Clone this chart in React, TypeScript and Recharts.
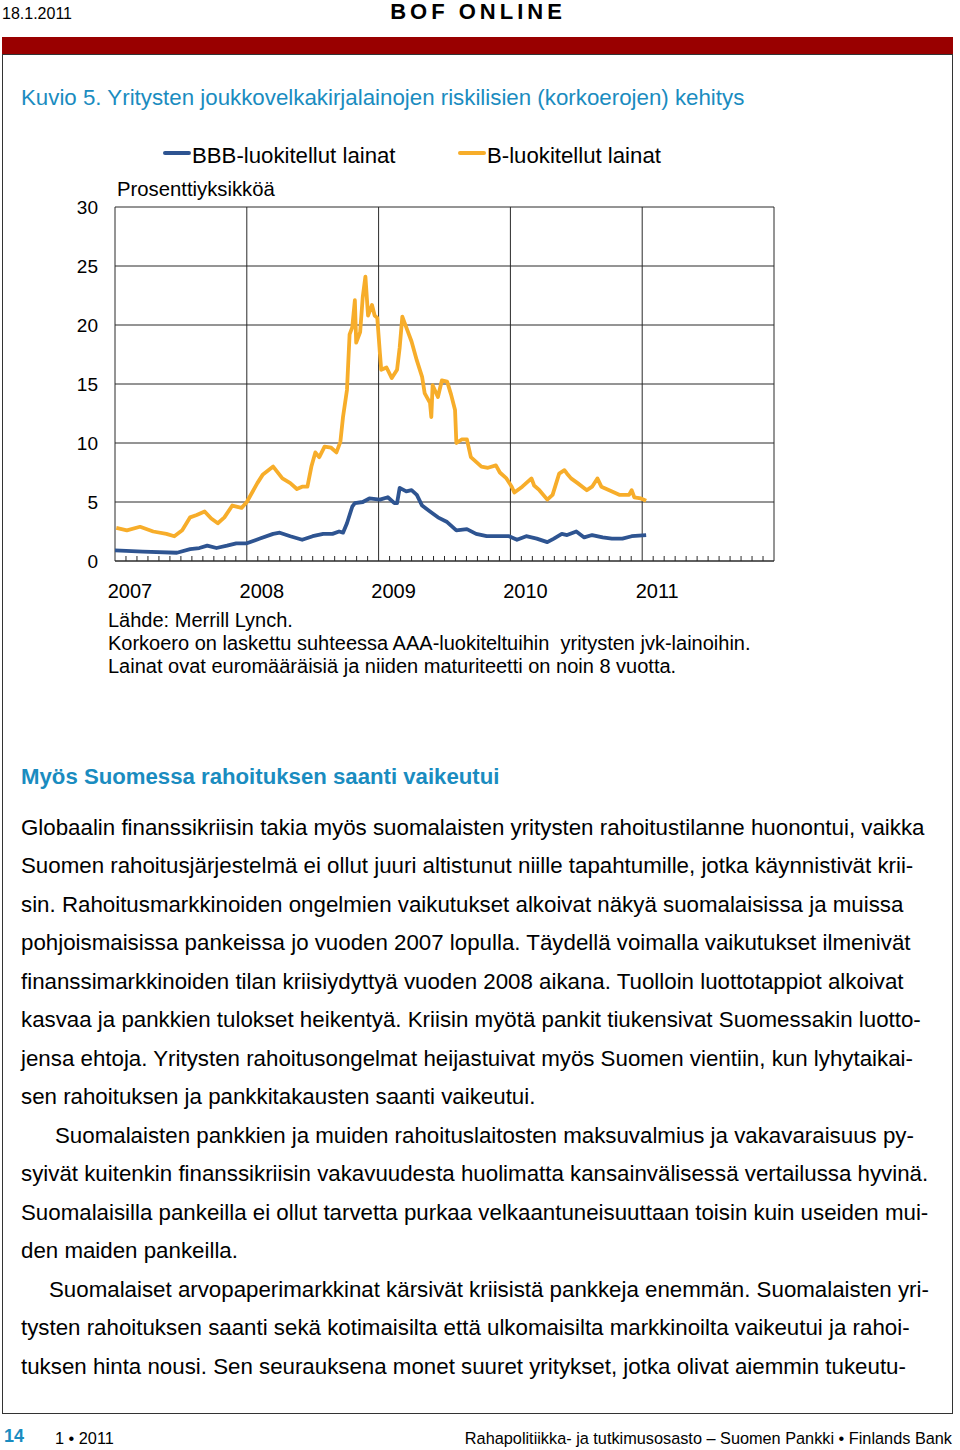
import React from 'react';
import { LineChart, Line, XAxis, YAxis, CartesianGrid, ReferenceLine } from 'recharts';

// BBB-rated spread, fractional year -> percentage points
const bbbTimes = [
  2007.0, 2007.21, 2007.47, 2007.57, 2007.64, 2007.7, 2007.77, 2007.85, 2007.92, 2008.0,
  2008.1, 2008.2, 2008.25, 2008.33, 2008.42, 2008.5, 2008.58, 2008.65, 2008.7, 2008.73,
  2008.76, 2008.8, 2008.82, 2008.88, 2008.93, 2009.01, 2009.07, 2009.12, 2009.14, 2009.16,
  2009.21, 2009.25, 2009.29, 2009.33, 2009.39, 2009.45, 2009.52, 2009.59, 2009.67, 2009.74,
  2009.82, 2009.92, 2009.99, 2010.05, 2010.12, 2010.2, 2010.28, 2010.33, 2010.39, 2010.43,
  2010.5, 2010.56, 2010.62, 2010.7, 2010.77, 2010.85, 2010.92, 2011.03,
];
const bbbValues = [
  0.9, 0.8, 0.7, 1.0, 1.1, 1.3, 1.1, 1.3, 1.5, 1.5,
  1.9, 2.3, 2.4, 2.1, 1.8, 2.1, 2.3, 2.3, 2.5, 2.4,
  3.2, 4.6, 4.9, 5.0, 5.3, 5.2, 5.4, 4.9, 4.9, 6.2,
  5.9, 6.0, 5.6, 4.7, 4.2, 3.7, 3.3, 2.6, 2.7, 2.3,
  2.1, 2.1, 2.1, 1.8, 2.1, 1.9, 1.6, 1.9, 2.3, 2.2,
  2.5, 2.0, 2.2, 2.0, 1.9, 1.9, 2.1, 2.2,
];

// B-rated spread
const bTimes = [
  2007.01, 2007.09, 2007.19, 2007.29, 2007.39, 2007.45, 2007.51, 2007.57, 2007.62, 2007.68,
  2007.73, 2007.78, 2007.83, 2007.89, 2007.96, 2008.0, 2008.08, 2008.12, 2008.2, 2008.27,
  2008.33, 2008.38, 2008.42, 2008.46, 2008.49, 2008.52, 2008.55, 2008.59, 2008.64, 2008.68,
  2008.71, 2008.73, 2008.76, 2008.78, 2008.8, 2008.82, 2008.83, 2008.86, 2008.88, 2008.9,
  2008.92, 2008.95, 2008.97, 2008.99, 2009.01, 2009.02, 2009.06, 2009.1, 2009.14, 2009.16,
  2009.18, 2009.21, 2009.25, 2009.29, 2009.33, 2009.35, 2009.39, 2009.4, 2009.41, 2009.45,
  2009.48, 2009.52, 2009.55, 2009.58, 2009.59, 2009.63, 2009.67, 2009.7, 2009.74, 2009.78,
  2009.83, 2009.89, 2009.92, 2009.97, 2010.01, 2010.03, 2010.09, 2010.16, 2010.18, 2010.22,
  2010.28, 2010.32, 2010.37, 2010.41, 2010.43, 2010.46, 2010.51, 2010.58, 2010.62, 2010.66,
  2010.69, 2010.75, 2010.83, 2010.9, 2010.92, 2010.94, 2010.99, 2011.03,
];
const bValues = [
  2.8, 2.6, 2.9, 2.5, 2.3, 2.1, 2.6, 3.7, 3.9, 4.2,
  3.6, 3.2, 3.7, 4.7, 4.5, 5.0, 6.6, 7.3, 8.0, 7.0,
  6.6, 6.1, 6.3, 6.3, 8.0, 9.2, 8.8, 9.7, 9.6, 9.2,
  10.1, 12.2, 14.5, 19.2, 19.8, 22.1, 18.5, 19.4, 22.4, 24.1,
  20.8, 21.7, 20.8, 20.6, 17.6, 16.2, 16.4, 15.5, 16.2, 18.1,
  20.7, 19.8, 18.6, 17.0, 15.6, 14.2, 13.4, 12.2, 14.9, 13.9,
  15.3, 15.2, 14.1, 12.8, 10.0, 10.3, 10.3, 8.8, 8.4, 8.0,
  7.9, 8.1, 7.5, 7.0, 6.3, 5.8, 6.3, 7.0, 6.4, 6.0,
  5.2, 5.6, 7.4, 7.7, 7.4, 7.0, 6.6, 6.0, 6.3, 7.0,
  6.3, 6.0, 5.6, 5.6, 6.0, 5.4, 5.3, 5.1,
];

const gridYears = [2007, 2008, 2009, 2010, 2011, 2012];
const labelYears = [2007, 2008, 2009, 2010, 2011];
const yTicks = [0, 5, 10, 15, 20, 25, 30];
const monthTicks = Array.from({ length: 61 }, (_, i) => 2007 + i / 12);

const seriesNames = ['BBB-luokitellut lainat', 'B-luokitellut lainat'];
const seriesColors = ['#2E5491', '#F7AD2A'];

const sourceNotes = [
  'Lähde: Merrill Lynch.',
  'Korkoero on laskettu suhteessa AAA-luokiteltuihin  yritysten jvk-lainoihin.',
  'Lainat ovat euromääräisiä ja niiden maturiteetti on noin 8 vuotta.',
];

const bodyLines = [
  { text: 'Globaalin finanssikriisin takia myös suomalaisten yritysten rahoitustilanne huonontui, vaikka', indent: 0 },
  { text: 'Suomen rahoitusjärjestelmä ei ollut juuri altistunut niille tapahtumille, jotka käynnistivät krii-', indent: 0 },
  { text: 'sin. Rahoitusmarkkinoiden ongelmien vaikutukset alkoivat näkyä suomalaisissa ja muissa', indent: 0 },
  { text: 'pohjoismaisissa pankeissa jo vuoden 2007 lopulla. Täydellä voimalla vaikutukset ilmenivät', indent: 0 },
  { text: 'finanssimarkkinoiden tilan kriisiydyttyä vuoden 2008 aikana. Tuolloin luottotappiot alkoivat', indent: 0 },
  { text: 'kasvaa ja pankkien tulokset heikentyä. Kriisin myötä pankit tiukensivat Suomessakin luotto-', indent: 0 },
  { text: 'jensa ehtoja. Yritysten rahoitusongelmat heijastuivat myös Suomen vientiin, kun lyhytaikai-', indent: 0 },
  { text: 'sen rahoituksen ja pankkitakausten saanti vaikeutui.', indent: 0 },
  { text: 'Suomalaisten pankkien ja muiden rahoituslaitosten maksuvalmius ja vakavaraisuus py-', indent: 34 },
  { text: 'syivät kuitenkin finanssikriisin vakavuudesta huolimatta kansainvälisessä vertailussa hyvinä.', indent: 0 },
  { text: 'Suomalaisilla pankeilla ei ollut tarvetta purkaa velkaantuneisuuttaan toisin kuin useiden mui-', indent: 0 },
  { text: 'den maiden pankeilla.', indent: 0 },
  { text: 'Suomalaiset arvopaperimarkkinat kärsivät kriisistä pankkeja enemmän. Suomalaisten yri-', indent: 28 },
  { text: 'tysten rahoituksen saanti sekä kotimaisilta että ulkomaisilta markkinoilta vaikeutui ja rahoi-', indent: 0 },
  { text: 'tuksen hinta nousi. Sen seurauksena monet suuret yritykset, jotka olivat aiemmin tukeutu-', indent: 0 },
];

const FONT = '"Liberation Sans", Arial, Helvetica, sans-serif';
const TEAL = '#1A8CC0';
const GRID = '#2a2a2a';

// helper for absolutely placed text, top given as visual centre
const Txt = ({ x, cy, size, children, style }: any) => (
  <div
    style={{
      position: 'absolute',
      left: x,
      top: cy - size / 2,
      fontSize: size,
      lineHeight: `${size}px`,
      whiteSpace: 'pre',
      ...style,
    }}
  >
    {children}
  </div>
);

const XTick = ({ x, y, payload }: any) => {
  const v = payload.value;
  const year = Math.round(v);
  const isYear = Math.abs(v - year) < 1e-6;
  return (
    <g>
      {!isYear && <line x1={x} x2={x} y1={y} y2={y - 5} stroke={GRID} strokeWidth={1} />}
      {isYear && labelYears.includes(year) && (
        <text x={x + 15} y={y + 30} textAnchor="middle" dominantBaseline="central" fontSize={20} fill="#000">
          {year}
        </text>
      )}
    </g>
  );
};

export default function App() {
  const bbbData = bbbTimes.map((t, i) => ({ t, v: bbbValues[i] }));
  const bData = bTimes.map((t, i) => ({ t, v: bValues[i] }));

  return (
    <div
      style={{
        position: 'absolute',
        left: 0,
        top: 0,
        width: 960,
        height: 1450,
        background: '#fff',
        fontFamily: FONT,
        color: '#000',
      }}
    >
      {/* page header */}
      <Txt x={2} cy={14} size={16}>18.1.2011</Txt>
      <div
        style={{
          position: 'absolute',
          left: 0,
          width: 956,
          top: 1,
          textAlign: 'center',
          fontSize: 22,
          lineHeight: '22px',
          fontWeight: 'bold',
          letterSpacing: 4,
        }}
      >
        BOF ONLINE
      </div>
      <div style={{ position: 'absolute', left: 2, top: 37, width: 951, height: 17, background: '#990000' }} />
      <div
        style={{
          position: 'absolute',
          left: 2,
          top: 54,
          width: 949,
          height: 1358,
          border: '1px solid #333',
        }}
      />

      {/* figure title */}
      <Txt x={21} cy={98} size={22.3} style={{ color: TEAL }}>
        Kuvio 5. Yritysten joukkovelkakirjalainojen riskilisien (korkoerojen) kehitys
      </Txt>

      {/* legend */}
      {seriesNames.map((name, i) => {
        const lx = i === 0 ? 163 : 458;
        return (
          <React.Fragment key={name}>
            <div style={{ position: 'absolute', left: lx, top: 151, width: 28, height: 4, background: seriesColors[i], borderRadius: 2 }} />
            <Txt x={lx + 29} cy={156} size={22.2}>{name}</Txt>
          </React.Fragment>
        );
      })}

      <Txt x={117} cy={189} size={20.3}>Prosenttiyksikköä</Txt>

      {/* chart */}
      <div style={{ position: 'absolute', left: 0, top: 180 }}>
        <LineChart width={800} height={440} margin={{ top: 27, right: 26, left: 0, bottom: 19 }} style={{ fontFamily: FONT }}>
          <CartesianGrid vertical={false} stroke={GRID} strokeWidth={1} />
          <XAxis
            type="number"
            dataKey="t"
            domain={[2007, 2012]}
            ticks={monthTicks}
            interval={0}
            height={40}
            tickSize={0}
            tickMargin={0}
            tickLine={false}
            axisLine={{ stroke: GRID, strokeWidth: 1 }}
            tick={<XTick />}
            allowDataOverflow
          />
          <YAxis
            type="number"
            domain={[0, 30]}
            ticks={yTicks}
            interval={0}
            width={115}
            tickSize={0}
            tickMargin={17}
            axisLine={false}
            tickLine={false}
            tick={{ fontSize: 19, fill: '#000' }}
          />
          {gridYears.map((yr) => (
            <ReferenceLine key={yr} x={yr} stroke={GRID} strokeWidth={1} />
          ))}
          <Line
            data={bbbData}
            dataKey="v"
            type="linear"
            stroke={seriesColors[0]}
            strokeWidth={3.8}
            strokeLinejoin="round"
            dot={false}
            isAnimationActive={false}
          />
          <Line
            data={bData}
            dataKey="v"
            type="linear"
            stroke={seriesColors[1]}
            strokeWidth={3.8}
            strokeLinejoin="round"
            dot={false}
            isAnimationActive={false}
          />
        </LineChart>
      </div>

      {/* source notes */}
      {sourceNotes.map((s, i) => (
        <Txt key={i} x={108} cy={620 + i * 23} size={20}>{s}</Txt>
      ))}

      {/* article text */}
      <Txt x={21} cy={777} size={22.2} style={{ color: TEAL, fontWeight: 'bold' }}>
        Myös Suomessa rahoituksen saanti vaikeutui
      </Txt>
      {bodyLines.map((l, i) => (
        <Txt key={i} x={21 + l.indent} cy={828 + i * 38.5} size={22.3}>{l.text}</Txt>
      ))}

      {/* footer */}
      <Txt x={4} cy={1436} size={18} style={{ color: TEAL, fontWeight: 'bold' }}>14</Txt>
      <Txt x={55} cy={1438} size={16.3}>1 • 2011</Txt>
      <div
        style={{
          position: 'absolute',
          right: 8,
          top: 1438 - 8,
          fontSize: 16.3,
          lineHeight: '16px',
          whiteSpace: 'pre',
        }}
      >
        Rahapolitiikka- ja tutkimusosasto – Suomen Pankki • Finlands Bank
      </div>
    </div>
  );
}
